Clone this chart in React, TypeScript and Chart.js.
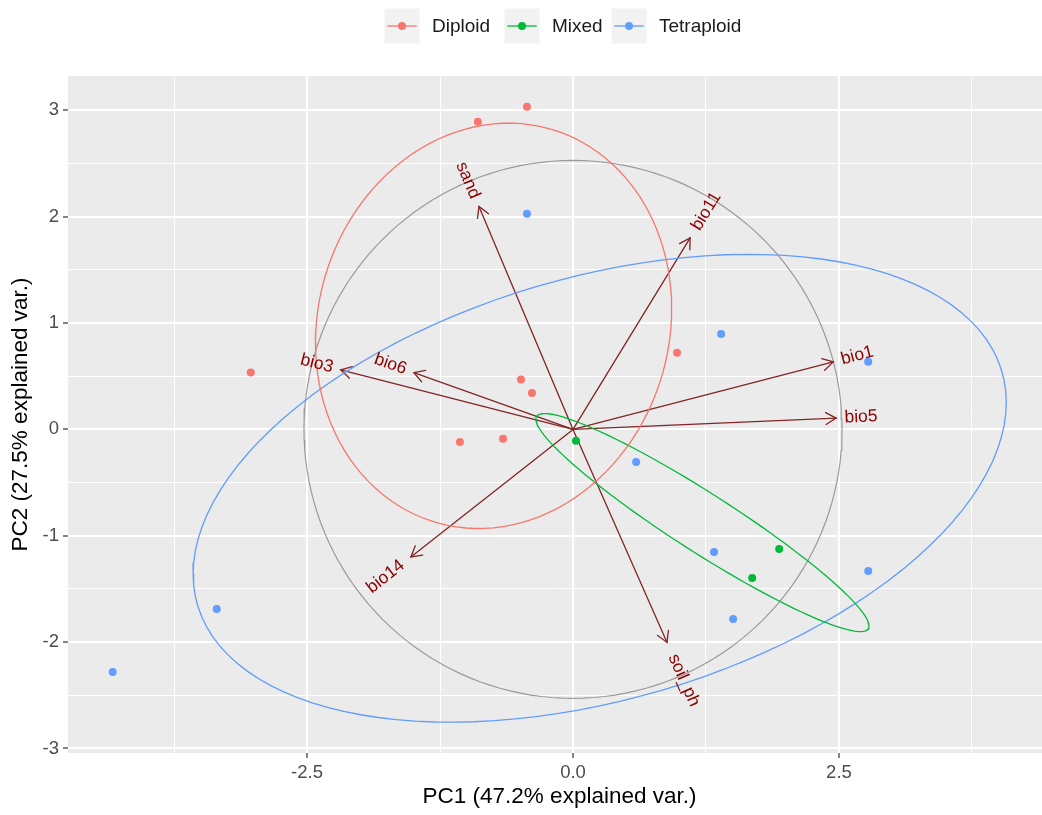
import React, { useEffect, useRef } from "react";
import { Chart, registerables } from "chart.js";

Chart.register(...registerables);

// ---------- data ----------
const groupNames = ["Diploid", "Mixed", "Tetraploid"];
const groupColors = ["#F8766D", "#00BA38", "#619CFF"];

const diploidPC1 = [-0.894, -0.433, -3.029, -0.489, -0.386, -1.063, -0.658, 0.978];
const diploidPC2 = [2.893, 3.034, 0.536, 0.47, 0.343, -0.118, -0.089, 0.72];
const mixedPC1 = [0.028, 1.684, 1.938];
const mixedPC2 = [-0.108, -1.397, -1.124];
const tetraploidPC1 = [-0.433, 1.392, 2.775, 0.593, 1.326, 1.505, 2.775, -3.349, -4.327];
const tetraploidPC2 = [2.027, 0.898, 0.635, -0.306, -1.152, -1.783, -1.331, -1.689, -2.281];

const variableNames = ["sand", "bio11", "bio1", "bio5", "bio3", "bio6", "bio14", "soil_ph"];
const variablePC1 = [-0.884, 1.101, 2.446, 2.474, -2.183, -1.496, -1.524, 0.884];
const variablePC2 = [2.096, 1.801, 0.635, 0.106, 0.56, 0.534, -1.199, -2.003];

const xTickValues = [-3.75, -2.5, -1.25, 0, 1.25, 2.5, 3.75];
const xTickLabels = ["", "-2.5", "", "0.0", "", "2.5", ""];
const yTickValues = [-3, -2.5, -2, -1.5, -1, -0.5, 0, 0.5, 1, 1.5, 2, 2.5, 3];
const yTickLabels = ["-3", "", "-2", "", "-1", "", "0", "", "1", "", "2", "", "3"];
const xLimits = [-4.747, 4.493];
const yLimits = [-3.043, 3.323];

const xAxisTitle = "PC1 (47.2% explained var.)";
const yAxisTitle = "PC2 (27.5% explained var.)";

const ellipseProb = 0.68;
const circleProb = 0.69;

// ---------- helpers (ggbiplot-style derived shapes) ----------
const FONT = '"Liberation Sans", Arial, Helvetica, sans-serif';

function mean(a: number[]) {
  return a.reduce((s, v) => s + v, 0) / a.length;
}

function ellipsePath(xs: number[], ys: number[], prob: number) {
  const n = xs.length;
  const mx = mean(xs);
  const my = mean(ys);
  let sxx = 0, syy = 0, sxy = 0;
  for (let i = 0; i < n; i++) {
    const dx = xs[i] - mx;
    const dy = ys[i] - my;
    sxx += dx * dx;
    syy += dy * dy;
    sxy += dx * dy;
  }
  sxx /= n - 1;
  syy /= n - 1;
  sxy /= n - 1;
  const a = Math.sqrt(sxx);
  const b = sxy / a;
  const c = Math.sqrt(Math.max(syy - b * b, 0));
  const ed = Math.sqrt(-2 * Math.log(1 - prob));
  const pts: { x: number; y: number }[] = [];
  for (let i = 0; i <= 120; i++) {
    const t = -Math.PI + (2 * Math.PI * i) / 120;
    const ct = Math.cos(t);
    const st = Math.sin(t);
    pts.push({ x: mx + ed * a * ct, y: my + ed * (b * ct + c * st) });
  }
  return pts;
}

function circlePath(xs: number[], ys: number[], prob: number) {
  const msx = mean(xs.map((v) => v * v));
  const msy = mean(ys.map((v) => v * v));
  const r = Math.sqrt(-2 * Math.log(1 - prob)) * Math.pow(msx * msy, 0.25);
  const pts: { x: number; y: number }[] = [];
  for (let i = 0; i <= 160; i++) {
    const t = -Math.PI + (2 * Math.PI * i) / 160;
    pts.push({ x: r * Math.cos(t), y: r * Math.sin(t) });
  }
  return pts;
}

const toPoints = (xs: number[], ys: number[]) => xs.map((x, i) => ({ x, y: ys[i] }));

function isMajor(v: number, step: number) {
  return Math.abs(v / step - Math.round(v / step)) < 1e-9;
}

const biplotPlugin = {
  id: "biplot",
  beforeDraw(chart: any) {
    const { ctx, chartArea: a } = chart;
    ctx.save();
    ctx.fillStyle = "#FFFFFF";
    ctx.fillRect(0, 0, chart.width, chart.height);
    ctx.fillStyle = "#EBEBEB";
    ctx.fillRect(a.left, a.top, a.right - a.left, a.bottom - a.top);
    ctx.restore();
  },
  afterDatasetDraw(chart: any, args: any) {
    if (args.index !== 0) return;
    const { ctx } = chart;
    const xs = chart.scales.x;
    const ys = chart.scales.y;
    const ox = xs.getPixelForValue(0);
    const oy = ys.getPixelForValue(0);
    ctx.save();
    ctx.strokeStyle = "#832424";
    ctx.lineWidth = 1.3;
    ctx.lineCap = "round";
    for (let i = 0; i < variableNames.length; i++) {
      const tx = xs.getPixelForValue(variablePC1[i]);
      const ty = ys.getPixelForValue(variablePC2[i]);
      ctx.beginPath();
      ctx.moveTo(ox, oy);
      ctx.lineTo(tx, ty);
      ctx.stroke();
      const ang = Math.atan2(ty - oy, tx - ox);
      const L = 12;
      const h = Math.PI / 6;
      ctx.beginPath();
      ctx.moveTo(tx - L * Math.cos(ang - h), ty - L * Math.sin(ang - h));
      ctx.lineTo(tx, ty);
      ctx.lineTo(tx - L * Math.cos(ang + h), ty - L * Math.sin(ang + h));
      ctx.stroke();
    }
    ctx.restore();
  },
  afterDatasetsDraw(chart: any) {
    const { ctx } = chart;
    const xs = chart.scales.x;
    const ys = chart.scales.y;
    ctx.save();
    ctx.font = `17.5px ${FONT}`;
    ctx.fillStyle = "#8B0000";
    ctx.textBaseline = "middle";
    ctx.textAlign = "left";
    for (let i = 0; i < variableNames.length; i++) {
      const vx = variablePC1[i];
      const vy = variablePC2[i];
      const tx = xs.getPixelForValue(vx);
      const ty = ys.getPixelForValue(vy);
      const angle = Math.atan(vy / vx);
      const hjust = (1 - 1.5 * Math.sign(vx)) / 2;
      const w = ctx.measureText(variableNames[i]).width;
      ctx.save();
      ctx.translate(tx, ty);
      ctx.rotate(-angle);
      ctx.fillText(variableNames[i], -hjust * w, 0);
      ctx.restore();
    }
    ctx.restore();
  },
  afterDraw(chart: any) {
    const { ctx, chartArea: a } = chart;
    ctx.save();
    // legend
    const keyCenters = [402, 522, 629];
    const cy = 26;
    const key = 35;
    ctx.font = `19px ${FONT}`;
    ctx.textBaseline = "middle";
    ctx.textAlign = "left";
    for (let i = 0; i < groupNames.length; i++) {
      const cx = keyCenters[i];
      ctx.fillStyle = "#F2F2F2";
      ctx.fillRect(cx - key / 2, cy - key / 2, key, key);
      ctx.strokeStyle = groupColors[i];
      ctx.lineWidth = 1.3;
      ctx.beginPath();
      ctx.moveTo(cx - key * 0.42, cy);
      ctx.lineTo(cx + key * 0.42, cy);
      ctx.stroke();
      ctx.fillStyle = groupColors[i];
      ctx.beginPath();
      ctx.arc(cx, cy, 4, 0, Math.PI * 2);
      ctx.fill();
      ctx.fillStyle = "#1A1A1A";
      ctx.fillText(groupNames[i], cx + 30, cy + 1);
    }
    // axis titles
    ctx.font = `22.5px ${FONT}`;
    ctx.fillStyle = "#000000";
    ctx.textAlign = "center";
    ctx.textBaseline = "middle";
    ctx.fillText(xAxisTitle, (a.left + a.right) / 2, 797);
    ctx.save();
    ctx.translate(21, (a.top + a.bottom) / 2);
    ctx.rotate(-Math.PI / 2);
    ctx.fillText(yAxisTitle, 0, 0);
    ctx.restore();
    ctx.restore();
  },
};

export default function App() {
  const ref = useRef<HTMLCanvasElement | null>(null);

  useEffect(() => {
    if (!ref.current) return;
    const pointSets = [
      toPoints(diploidPC1, diploidPC2),
      toPoints(mixedPC1, mixedPC2),
      toPoints(tetraploidPC1, tetraploidPC2),
    ];
    const ellipses = [
      ellipsePath(diploidPC1, diploidPC2, ellipseProb),
      ellipsePath(mixedPC1, mixedPC2, ellipseProb),
      ellipsePath(tetraploidPC1, tetraploidPC2, ellipseProb),
    ];
    const circle = circlePath(
      [...diploidPC1, ...mixedPC1, ...tetraploidPC1],
      [...diploidPC2, ...mixedPC2, ...tetraploidPC2],
      circleProb
    );

    const datasets: any[] = [
      {
        label: "circle",
        data: circle,
        showLine: true,
        borderColor: "#9A9A9A",
        borderWidth: 1.2,
        pointRadius: 0,
        fill: false,
        order: 10,
      },
    ];
    groupNames.forEach((g, i) => {
      datasets.push({
        label: g,
        data: pointSets[i],
        showLine: false,
        backgroundColor: groupColors[i],
        borderWidth: 0,
        pointRadius: 4,
        pointHoverRadius: 4,
        order: 5,
      });
    });
    groupNames.forEach((g, i) => {
      datasets.push({
        label: g + " ellipse",
        data: ellipses[i],
        showLine: true,
        borderColor: groupColors[i],
        borderWidth: 1.3,
        pointRadius: 0,
        fill: false,
        order: 1,
      });
    });

    const tickFont = { family: FONT, size: 18.5 };

    const chart = new Chart(ref.current, {
      type: "scatter",
      data: { datasets },
      options: {
        responsive: false,
        animation: false,
        events: [],
        layout: { padding: { top: 76, right: 11, left: 0, bottom: 0 }, autoPadding: false } as any,
        plugins: { legend: { display: false }, tooltip: { enabled: false } },
        scales: {
          x: {
            type: "linear",
            min: xLimits[0],
            max: xLimits[1],
            afterBuildTicks: (s: any) => {
              s.ticks = xTickValues.map((v) => ({ value: v }));
            },
            afterFit: (s: any) => {
              s.height = 62;
            },
            ticks: {
              autoSkip: false,
              maxRotation: 0,
              minRotation: 0,
              padding: 4,
              color: "#4D4D4D",
              font: tickFont,
              callback: (v: any) => {
                const i = xTickValues.findIndex((t) => Math.abs(t - Number(v)) < 1e-9);
                return i >= 0 ? xTickLabels[i] : "";
              },
            },
            grid: {
              color: "#FFFFFF",
              lineWidth: (c: any) => (isMajor(c.tick?.value ?? 0, 2.5) ? 2 : 1),
              drawTicks: true,
              tickLength: 5,
              tickWidth: 1.2,
              tickColor: (c: any) => (isMajor(c.tick?.value ?? 0, 2.5) ? "#333333" : "rgba(0,0,0,0)"),
            },
            border: { display: false },
          },
          y: {
            type: "linear",
            min: yLimits[0],
            max: yLimits[1],
            afterBuildTicks: (s: any) => {
              s.ticks = yTickValues.map((v) => ({ value: v }));
            },
            afterFit: (s: any) => {
              s.width = 68;
            },
            ticks: {
              autoSkip: false,
              padding: 4,
              color: "#4D4D4D",
              font: tickFont,
              callback: (v: any) => {
                const i = yTickValues.findIndex((t) => Math.abs(t - Number(v)) < 1e-9);
                return i >= 0 ? yTickLabels[i] : "";
              },
            },
            grid: {
              color: "#FFFFFF",
              lineWidth: (c: any) => (isMajor(c.tick?.value ?? 0, 1) ? 2 : 1),
              drawTicks: true,
              tickLength: 5,
              tickWidth: 1.2,
              tickColor: (c: any) => (isMajor(c.tick?.value ?? 0, 1) ? "#333333" : "rgba(0,0,0,0)"),
            },
            border: { display: false },
          },
        },
      },
      plugins: [biplotPlugin],
    });

    return () => chart.destroy();
  }, []);

  return (
    <div
      style={{
        position: "fixed",
        left: 0,
        top: 0,
        width: 1042,
        height: 815,
        overflow: "hidden",
        background: "#FFFFFF",
      }}
    >
      <canvas ref={ref} width={1062} height={815} style={{ display: "block" }} />
    </div>
  );
}
